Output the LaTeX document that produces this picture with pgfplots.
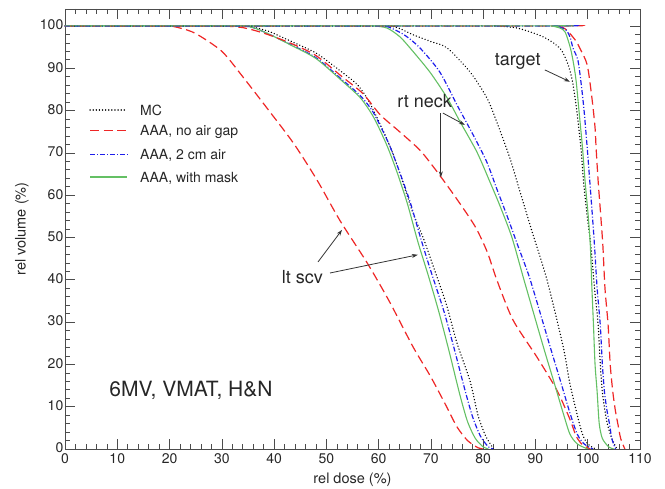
\documentclass[border=0pt]{standalone}
\usepackage{fontspec}
\setmainfont{TeX Gyre Heros}
\usepackage{pgfplots}
\pgfplotsset{compat=1.18}
\usetikzlibrary{arrows.meta}

\definecolor{DvhRed}{RGB}{238,38,38}
\definecolor{DvhBlue}{RGB}{30,30,235}
\definecolor{DvhGreen}{RGB}{100,192,100}

\tikzset{
  mcline/.style={color=black, line width=1.5pt, line cap=round, dash pattern=on 0.01pt off 3.1pt},
  noairline/.style={color=DvhRed, line width=1.2pt, dash pattern=on 9pt off 4.5pt},
  twocmline/.style={color=DvhBlue, line width=1.2pt, dash pattern=on 5pt off 2pt on 1pt off 2pt},
  maskline/.style={color=DvhGreen, line width=1.1pt},
  mc/.style={mcline, smooth, tension=0.45},
  noair/.style={noairline, smooth, tension=0.45},
  twocm/.style={twocmline, smooth, tension=0.45},
  mask/.style={maskline, smooth, tension=0.45},
  ann/.style={-{Stealth[length=6pt,width=4pt]}, line width=0.8pt, black!80},
  key/.style={anchor=base west, font=\fontsize{14}{16}\selectfont, text=black!85, inner sep=0pt},
}

\begin{document}
\begin{tikzpicture}
\begin{axis}[
  at={(0,0)}, anchor=south west,
  scale only axis, width=575pt, height=440pt,
  xmin=0, xmax=110, ymin=0, ymax=104,
  xtick={0,10,...,110}, ytick={0,10,...,100},
  minor x tick num=4, minor y tick num=4,
  tick align=inside, major tick length=10pt, minor tick length=5pt,
  tick style={black!70, line width=0.6pt},
  axis line style={black!70, line width=0.8pt},
  /pgf/number format/assume math mode=true,
  tick label style={font=\fontsize{14}{16}\selectfont, text=black!85},
  yticklabel style={inner xsep=1.5pt, yshift=1pt},
  xticklabel style={inner ysep=4pt},
  xlabel={rel dose (\%)}, ylabel={rel volume (\%)},
  label style={font=\fontsize{14.5}{16}\selectfont, text=black!85},
  xlabel style={at={(axis description cs:0.5,-0.07)}, anchor=center},
  ylabel style={at={(axis description cs:-0.075,0.5)}, anchor=center, rotate=0},
]
% lt scv
\addplot[mc] coordinates {(0,100) (32,100) (34,100) (36,99.7) (39,98.7) (43,96.5) (48,93.6) (52,90) (56,86) (58.5,81.3) (62.2,71.5) (64.5,63.5) (66.5,56) (68.5,50) (70.5,43) (73,34) (75,25) (77.5,16) (79,8) (80.5,3) (82,0)};
\addplot[noair] coordinates {(0,100) (18,100) (20,100) (22,99.5) (25,98.2) (30,94) (34,88) (39,80) (43.7,72.3) (48.2,63.6) (52.6,54) (57.8,44) (62,35) (66.6,24.1) (70,17) (73,10) (75,5.2) (77,2) (79,0.3) (80,0)};
\addplot[twocm] coordinates {(0,100) (32,100) (34,100) (36,99.6) (38.6,98.3) (43,95.7) (48,92.5) (53,87.3) (56.5,83.5) (59,79.5) (62,72) (64,65.5) (66,58.5) (68,50) (70,42) (72.5,32.5) (74.5,23.5) (76.5,14) (78,7.5) (79.5,3) (81,0.5) (82,0)};
\addplot[mask] coordinates {(0,100) (32,100) (34,100) (36,99.6) (38.6,98.3) (43,95.6) (48,92.3) (53,87) (56.5,83) (59,78.5) (61.5,72) (63.5,65.5) (65.5,58) (67.5,49) (69.5,41) (71.5,32.5) (73.5,23) (75.5,13) (77,6.5) (78.5,2.5) (80,0.5) (81,0)};
% rt neck
\addplot[mc] coordinates {(0,100) (60,100) (62,100) (64,99.4) (66.6,97.9) (70,96.3) (73.1,94.8) (77.5,89.1) (80.7,83) (82.6,77.3) (85.1,68.8) (87,61) (89.2,52) (92.2,40) (95.3,24.2) (96.5,16) (97.9,8.5) (99,3.5) (100,1.2) (101.5,0)};
\addplot[noair] coordinates {(0,100) (28,100) (30,100) (34,99.6) (38,98.3) (43,96) (48,93) (53,88) (57,84) (60.3,79) (64,75) (68,70.5) (71.5,65) (75,59) (78.5,52.5) (80.8,46.5) (82.6,40) (85.7,30.5) (90.3,21.7) (94.1,13.9) (96.6,7) (97.8,3) (99,1) (100.5,0)};
\addplot[twocm] coordinates {(0,100) (58,100) (60,100) (62,99.7) (65,97.8) (67.9,94.8) (71.7,89.1) (75,81.3) (78.1,74.2) (80.7,67.8) (82.6,61.5) (84.6,55) (86.8,47.5) (89,40) (92.8,24.2) (94.8,16) (96.6,8.5) (98,3.5) (99.3,1.2) (101,0)};
\addplot[mask] coordinates {(0,100) (57,100) (59,100) (61.6,99.5) (64,97.5) (66,94.8) (69.8,89.1) (73.1,83) (75.6,77.3) (78.8,70.2) (81.3,63.1) (83.2,57.5) (85.5,50) (87.8,40) (91.5,24.2) (93.5,16) (95.3,8.5) (96.6,3.5) (98,1.2) (100,0)};
% target
\addplot[mc] coordinates {(0,100) (80,100) (82,100) (86.5,99.5) (91.5,97.4) (94.7,94.7) (96.2,91) (97.1,86.8) (97.9,80) (98.7,71.2) (99.2,63.2) (99.9,55) (100.6,48) (101.3,38) (102,29.3) (102.4,20) (102.8,13.5) (103.3,9) (103.8,5.7) (104.6,2.5) (105.6,0)};
\addplot[noair] coordinates {(0,100) (93.5,100) (94.5,100) (96,99) (97.9,96.2) (98.5,94.7) (99.9,90.8) (100.8,83) (101.4,76) (101.6,71.2) (102,63.2) (102.5,55) (102.9,48) (103.3,38) (103.9,29.3) (104.3,20) (104.8,13.5) (105.3,9) (105.8,5.7) (106.3,2.5) (107.1,0)};
\addplot[twocm] coordinates {(0,100) (92.5,100) (93.5,100) (95.7,99.2) (96.6,97.4) (97.2,94.7) (98.1,92) (98.7,86.8) (99.3,80) (99.9,71.2) (100.4,63.2) (100.9,55) (101.3,48) (101.8,38) (102.4,29.3) (102.8,20) (103.2,13.5) (103.7,9) (104.2,5.7) (104.6,2.5) (105.3,0)};
\addplot[mask] coordinates {(0,100) (92,100) (93,100) (94.7,99.5) (95.7,98.5) (96.7,94.7) (97.3,91) (97.8,86.8) (98.4,79) (99,71.2) (99.5,63.2) (100.1,55) (100.5,48) (100.8,38) (101.1,29.3) (101.4,20) (101.8,13.5) (102.2,6) (102.8,2.5) (104,0.5) (105,0)};
% legend key
\draw[mcline] (axis cs:4.8,80.1) -- (axis cs:11.9,80.1);
\node[key] at (axis cs:14.35,78.9) {MC};
\draw[noairline] (axis cs:4.8,75.2) -- (axis cs:11.9,75.2);
\node[key] at (axis cs:14.35,74.0) {AAA, no air gap};
\draw[twocmline] (axis cs:4.8,69.7) -- (axis cs:11.9,69.7);
\node[key] at (axis cs:14.35,68.5) {AAA, 2 cm air};
\draw[maskline] (axis cs:4.8,64.3) -- (axis cs:11.9,64.3);
\node[key] at (axis cs:14.35,63.1) {AAA, with mask};
% annotations
\node[font=\fontsize{18}{20}\selectfont, text=black!85] at (axis cs:86.6,91.5) {target};
\draw[ann] (axis cs:91.8,89.6) -- (axis cs:96.6,86.8);
\node[font=\fontsize{18}{20}\selectfont, text=black!85] at (axis cs:68.8,82.3) {rt neck};
\draw[ann] (axis cs:72.3,79.4) -- (axis cs:76.5,76.6);
\draw[ann] (axis cs:71.9,79.4) -- (axis cs:71.9,64.2);
\node[font=\fontsize{18}{20}\selectfont, text=black!85] at (axis cs:45.4,40.7) {lt scv};
\draw[ann] (axis cs:48.4,44.2) -- (axis cs:53,51.8);
\draw[ann] (axis cs:50.7,41.6) -- (axis cs:67.5,45.9);
\node[font=\fontsize{21}{24}\selectfont, text=black!85] at (axis cs:24.1,13.9) {6MV, VMAT, H\&N};
\end{axis}
\pgfresetboundingbox
\path[use as bounding box] (-65pt,-40pt) rectangle (600pt,449pt);
\end{tikzpicture}
\end{document}
